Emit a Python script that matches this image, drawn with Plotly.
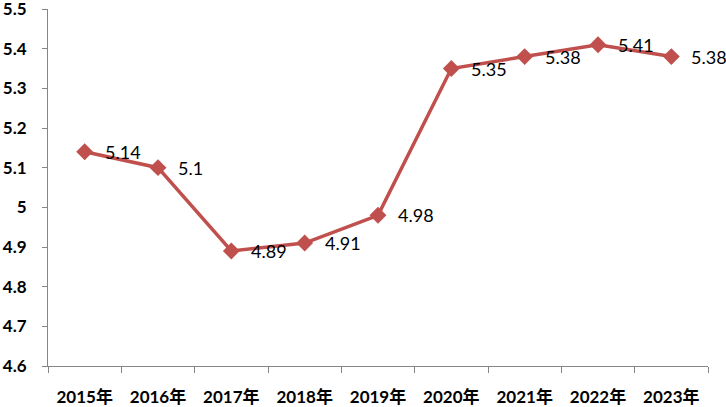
import plotly.graph_objects as go

years = ["2015年", "2016年", "2017年", "2018年", "2019年",
         "2020年", "2021年", "2022年", "2023年"]
values = [5.14, 5.1, 4.89, 4.91, 4.98, 5.35, 5.38, 5.41, 5.38]
labels = ["5.14", "5.1", "4.89", "4.91", "4.98", "5.35", "5.38", "5.41", "5.38"]
y_ticks = [4.6, 4.7, 4.8, 4.9, 5, 5.1, 5.2, 5.3, 5.4, 5.5]
y_tick_text = ["4.6", "4.7", "4.8", "4.9", "5", "5.1", "5.2", "5.3", "5.4", "5.5"]

line_color = "#C0504D"
axis_color = "#868686"
font_family = "Lato, 'Open Sans', 'Noto Sans CJK SC', sans-serif"

fig = go.Figure()
fig.add_trace(go.Scatter(
    x=years,
    y=values,
    mode="lines+markers",
    line={"color": line_color, "width": 3.5},
    marker={"symbol": "diamond", "size": 13, "color": line_color},
    cliponaxis=False,
    showlegend=False,
))

# data labels, right of each point
for yr, val, lab in zip(years, values, labels):
    fig.add_annotation(
        x=yr, y=val, text=lab,
        showarrow=False,
        xanchor="left", yanchor="middle",
        xshift=18, yshift=0,
        font={"size": 18, "color": "#000000", "family": font_family},
    )

fig.update_layout(
    width=726,
    height=407,
    margin={"l": 48, "r": 18, "t": 9, "b": 41, "autoexpand": False},
    plot_bgcolor="white",
    paper_bgcolor="white",
    font={"family": font_family, "color": "#000000"},
)

fig.update_xaxes(
    type="category",
    range=[-0.5, len(years) - 0.5],
    automargin=False,
    showline=True,
    linecolor=axis_color,
    linewidth=1,
    ticks="outside",
    tickson="boundaries",
    ticklen=6,
    tickcolor=axis_color,
    showgrid=False,
    tickfont={"size": 17, "family": font_family, "weight": "bold"},
    ticklabelstandoff=16,
)

fig.update_yaxes(
    range=[4.6, 5.5],
    automargin=False,
    tickvals=y_ticks,
    ticktext=y_tick_text,
    ticklabeloverflow="allow",
    showline=True,
    linecolor=axis_color,
    linewidth=1,
    ticks="outside",
    ticklen=5,
    tickcolor=axis_color,
    showgrid=False,
    zeroline=False,
    tickfont={"size": 17, "family": font_family, "weight": "bold"},
    ticklabelstandoff=12,
)

# page body has a default 8px margin; drop it so the chart sits at the corner
fig.write_html("out.html",
               config={"displayModeBar": False},
               post_script="document.body.style.margin = '0';")
